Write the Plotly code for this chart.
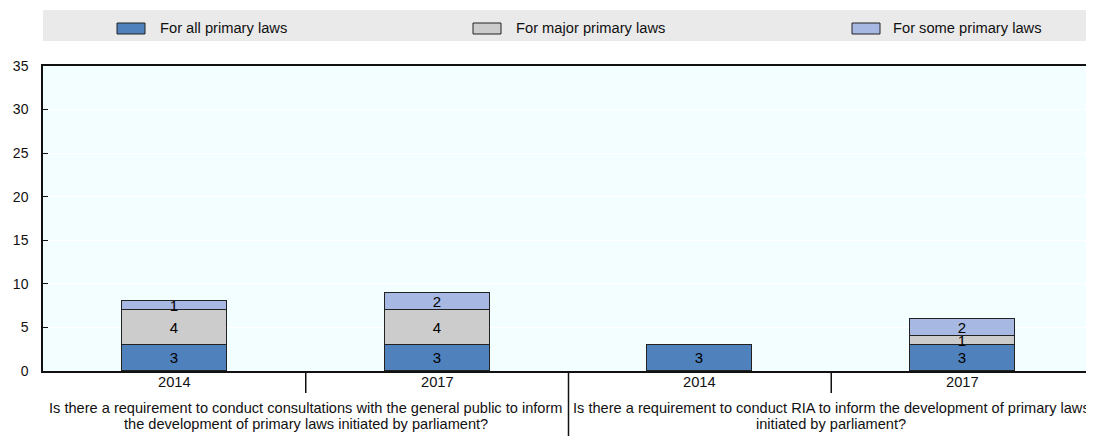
import plotly.graph_objects as go

# ---- data ----
years = ["2014", "2017", "2014", "2017"]
questions = [
    ["Is there a requirement to conduct consultations with the general public to inform",
     "the development of primary laws initiated by parliament?"],
    ["Is there a requirement to conduct RIA to inform the development of primary laws",
     "initiated by parliament?"],
]
series_names = ["For all primary laws", "For major primary laws", "For some primary laws"]
all_laws = [3, 3, 3, 3]
major_laws = [4, 4, 0, 1]
some_laws = [1, 2, 0, 2]
y_ticks = [0, 5, 10, 15, 20, 25, 30, 35]

# ---- style ----
colors = ["#4F81BD", "#CCCCCC", "#A7B9E3"]
FONT = "Liberation Sans, Arial, sans-serif"
OFF = 8  # page body margin
W, H = 1094 - OFF, 436 - OFF
ML, MR, MT, MB = 43 - OFF, 0, 66 - OFF, 65
PW, PH = W - ML - MR, H - MT - MB
X0, Y0 = ML + OFF, MT + OFF  # plot area top-left in screen px
YB = Y0 + PH  # plot bottom in screen px


def px(x):
    return (x - X0) / PW


def py(y):
    return (YB - y) / PH


xpos = list(range(len(years)))
fig = go.Figure()
for name, vals, col in zip(series_names, [all_laws, major_laws, some_laws], colors):
    fig.add_trace(go.Bar(
        x=xpos, y=vals, name=name, width=0.4,
        marker=dict(color=col, line=dict(color="#222222", width=1)),
        text=[str(v) if v else "" for v in vals],
        textposition="inside", insidetextanchor="middle", textangle=0,
        textfont=dict(family=FONT, size=15, color="black"),
        showlegend=False, hoverinfo="skip",
    ))

shapes = []
annotations = []
# legend band
shapes.append(dict(type="rect", xref="paper", yref="paper", x0=0, x1=1,
                   y0=py(41), y1=py(10), fillcolor="#EAEAEA", line=dict(width=0),
                   layer="below"))
sym_x = [117, 473, 852]
txt_x = [158, 514, 891]
for sx, tx, name, col in zip(sym_x, txt_x, series_names, colors):
    shapes.append(dict(type="rect", xref="paper", yref="paper",
                       x0=px(sx), x1=px(sx + 28), y0=py(34), y1=py(23),
                       fillcolor=col, line=dict(color="#222222", width=1)))
    annotations.append(dict(text=name, xref="paper", yref="paper", x=px(tx), y=py(28.5),
                            xanchor="left", yanchor="middle", showarrow=False,
                            font=dict(family=FONT, size=14.7, color="#111")))

# year labels
for i, yr in enumerate(years):
    annotations.append(dict(text=yr, xref="x", yref="paper", x=i, y=py(382),
                            xanchor="center", yanchor="middle", showarrow=False,
                            font=dict(family=FONT, size=14.7, color="#111")))
# group labels
for g, lines in enumerate(questions):
    cx = 2 * g + 0.5
    for k, line in enumerate(lines):
        annotations.append(dict(text=line, xref="x", yref="paper", x=cx, y=py(408 + 16 * k),
                                xanchor="center", yanchor="middle", showarrow=False,
                                font=dict(family=FONT, size=14.6, color="#111")))
# separators
for sep, bottom in [(0.5, 393), (1.5, 436), (2.5, 393)]:
    shapes.append(dict(type="line", xref="x", yref="paper", x0=sep, x1=sep,
                       y0=0, y1=py(bottom), line=dict(color="#111", width=1.5)))

fig.update_layout(
    width=W, height=H, autosize=False,
    margin=dict(l=ML, r=MR, t=MT, b=MB),
    paper_bgcolor="white", plot_bgcolor="#F2FEFF",
    barmode="stack", bargap=0,
    font=dict(family=FONT, size=14, color="#111"),
    uniformtext=dict(minsize=15, mode="show"),
    shapes=shapes, annotations=annotations,
    xaxis=dict(range=[-0.5, len(years) - 0.5], showticklabels=False, ticks="",
               showgrid=False, zeroline=False, showline=True, linecolor="#111",
               linewidth=1.5, mirror=True, fixedrange=True),
    yaxis=dict(range=[0, 35], tickvals=y_ticks, ticks="inside", ticklen=5,
               tickcolor="#111", showgrid=True, gridcolor="white", gridwidth=1,
               zeroline=False, showline=True, linecolor="#111", linewidth=1.5,
               ticklabelstandoff=10, tickfont=dict(family=FONT, size=14, color="#111"),
               fixedrange=True),
)

fig.write_html("out.html")
